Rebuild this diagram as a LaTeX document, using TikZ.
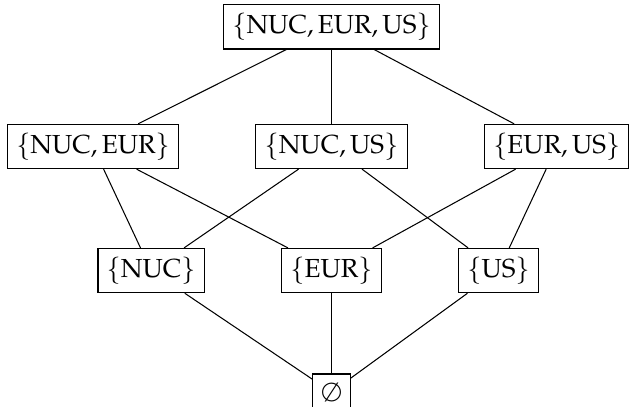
\documentclass[tikz,border=0pt]{standalone}
\usepackage{mathpazo}
\usepackage{amsmath,amssymb}
\usetikzlibrary{positioning, calc}

\begin{document}
\begin{tikzpicture}[node distance=1cm and 1.03cm,
    lat/.style={draw, rectangle, inner sep=3.3pt}]
  % top element
  \node[lat] (nucEurUs) {$\{\mathrm{NUC},\mathrm{EUR},\mathrm{US}\}$};
  % pairs
  \node[lat, below=1.0cm of nucEurUs] (nucUs) {$\{\mathrm{NUC},\mathrm{US}\}$};
  \node[lat, left=of nucUs] (nucEur) {$\{\mathrm{NUC},\mathrm{EUR}\}$};
  \node[lat, right=of nucUs] (eurUs) {$\{\mathrm{EUR},\mathrm{US}\}$};
  % singletons
  \node[lat, below=1.06cm of nucUs] (eur) {$\{\mathrm{EUR}\}$};
  \node[lat, left=of eur] (nuc) {$\{\mathrm{NUC}\}$};
  \node[lat, right=of eur] (us) {$\{\mathrm{US}\}$};
  % bottom element
  \node[lat, below=1.08cm of eur] (empty) {$\emptyset$};

  \draw (nucEurUs) -- (nucEur);
  \draw (nucEurUs) -- (nucUs);
  \draw (nucEurUs) -- (eurUs);
  \draw (nucEur) -- (nuc);
  \draw (nucEur) -- (eur);
  \draw (nucUs) -- (nuc);
  \draw (nucUs) -- (us);
  \draw (eurUs) -- (eur);
  \draw (eurUs) -- (us);
  \draw (nuc) -- (empty);
  \draw (eur) -- (empty);
  \draw (us) -- (empty);

  % clip the lower edge of the bottom box, as in the original
  \pgfresetboundingbox
  \useasboundingbox ($(nucEur.west |- nucEurUs.north)+(-2.7pt,1.6pt)$)
    rectangle ($(eurUs.east |- empty.south)+(0.2pt,1.8pt)$);
\end{tikzpicture}
\end{document}
